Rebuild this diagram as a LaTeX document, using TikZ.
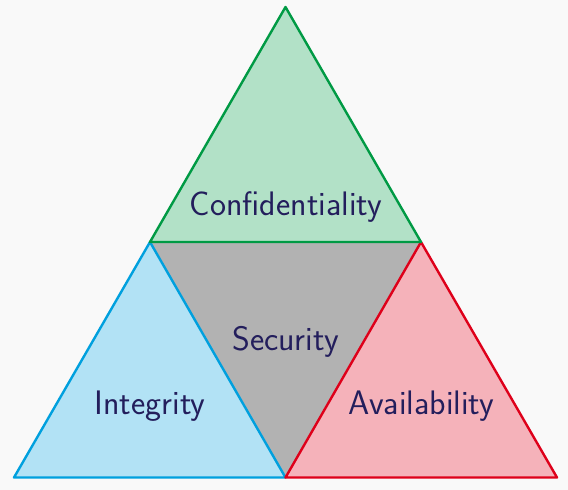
\documentclass[tikz,border=0pt]{standalone}
\usepackage{tikz}
\usepackage{xcolor}
\usetikzlibrary{positioning}

\definecolor{bgcol}{RGB}{249,249,249}
\definecolor{confcol}{RGB}{0,154,68}
\definecolor{intcol}{RGB}{0,160,222}
\definecolor{avacol}{RGB}{222,0,26}
\definecolor{txtcol}{RGB}{35,30,92}

\begin{document}
\begin{tikzpicture}[x=1pt, y=-1pt, line join=round,
    part/.style={line width=2.4pt},
    lbl/.style={anchor=base, text=txtcol, font=\sffamily\fontsize{34}{40}\selectfont, inner sep=0pt}]
            \fill[bgcol] (0, 0) rectangle (568, 490);

            \coordinate (top) at (285.5, 7);
            \coordinate (ml) at (150, 242);
            \coordinate (mr) at (421, 242);
            \coordinate (bl) at (14, 477.5);
            \coordinate (bm) at (285.5, 477.5);
            \coordinate (br) at (557, 477.5);

            \fill[black!30] (ml) -- (mr) -- (bm) -- cycle;
            \filldraw[part, draw=intcol, fill=intcol!30] (ml) -- (bl) -- (bm) -- cycle;
            \filldraw[part, draw=avacol, fill=avacol!30] (mr) -- (bm) -- (br) -- cycle;
            \filldraw[part, draw=confcol, fill=confcol!30] (top) -- (ml) -- (mr) -- cycle;

            \node[lbl] (conf) at (286, 215) {Confidentiality};
            \node[lbl] (sec) at (285.5, 350) {Security};
            \node[lbl] (int) at (150, 414) {Integrity};
            \node[lbl] (ava) at (421.5, 414) {Availability};
        \end{tikzpicture}
\end{document}
